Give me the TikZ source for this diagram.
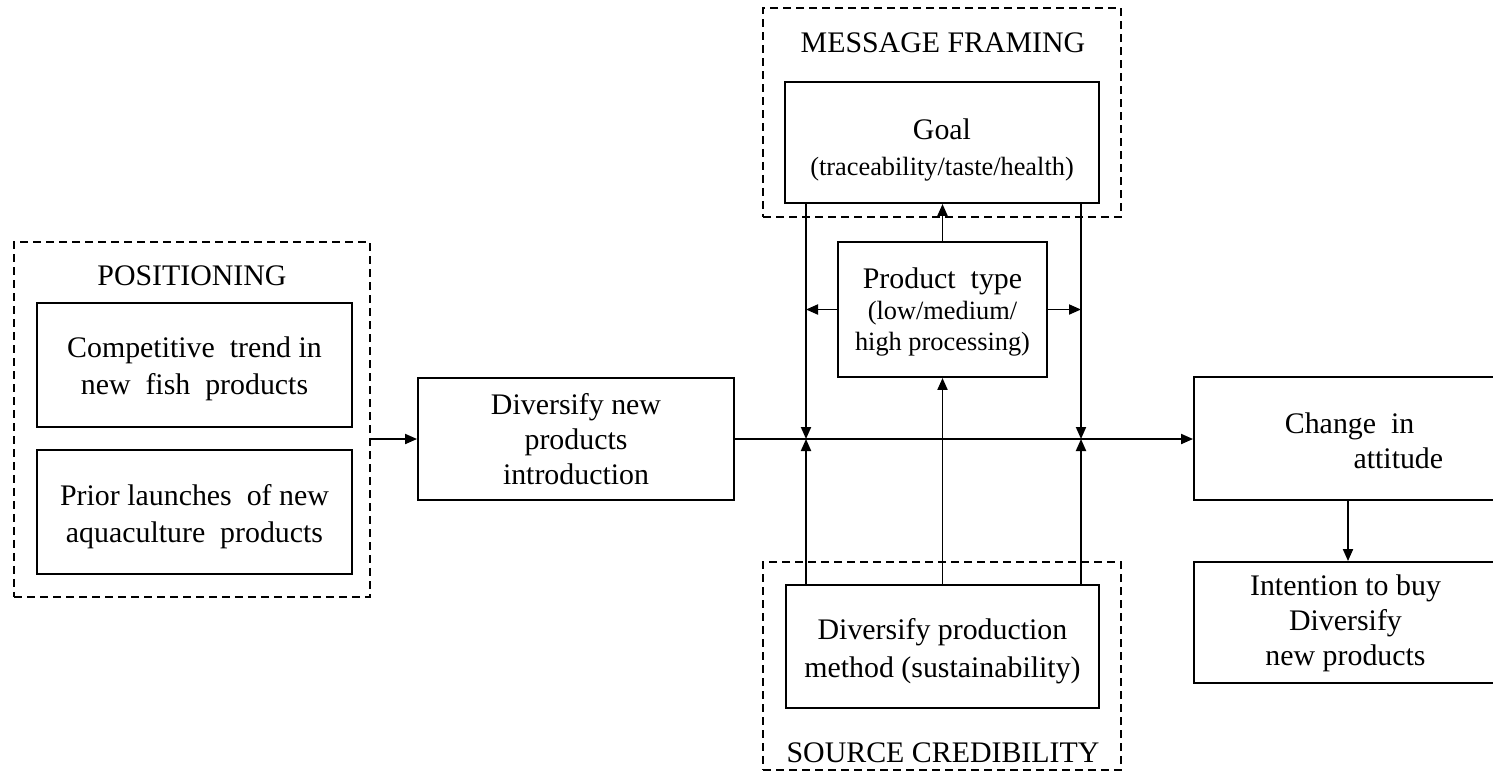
\documentclass[tikz,border=0pt]{standalone}
\usepackage{fontspec}
\setmainfont{Liberation Serif}
\usepackage{tikz}
\usetikzlibrary{arrows.meta,calc}

\begin{document}
\begin{tikzpicture}[x=0.02cm,y=-0.02cm,
line width=1.1pt,
box/.style={draw,align=center,inner sep=0pt,
  font=\fontsize{17}{20}\selectfont},
dashbox/.style={draw,dash pattern=on 1.6mm off 1mm,inner sep=0pt},
title/.style={font=\fontsize{17}{20}\selectfont},
arr/.style={-{Triangle[length=2.4mm,width=2mm]}}]
\useasboundingbox (0,0) rectangle (1493,772);

\node [dashbox,minimum width=7.12cm,minimum height=7.1cm] (pos) at (192,419.5) {};
\node [title] (posT) at (192,276) {POSITIONING};
\node [box,minimum width=6.3cm,minimum height=2.48cm] (comp) at (194.5,365) {};
\node [box,draw=none,font=\fontsize{17}{21}\selectfont] (compT) at (194.5,369)
  {Competitive\ \ trend in\\new\ \ fish\ \ products};
\node [box,minimum width=6.3cm,minimum height=2.48cm] (prior) at (194.5,512) {};
\node [box,draw=none,font=\fontsize{17}{21}\selectfont] (priorT) at (194.5,517)
  {Prior launches\ \ of new\\aquaculture\ \ products};

\node [box,minimum width=6.32cm,minimum height=2.44cm] (divnew) at (576,439)
  {Diversify new\\products\\introduction};

\node [dashbox,minimum width=7.16cm,minimum height=4.18cm] (msg) at (942,112.5) {};
\node [title] (msgT) at (943,43) {MESSAGE FRAMING};
\node [box,minimum width=6.28cm,minimum height=2.42cm] (goal) at (942,142.5) {};
\node [box,draw=none] (goalT) at (942,150)
  {Goal\\{\fontsize{15}{18}\selectfont(traceability/taste/health)}};
\node [box,minimum width=4.18cm,minimum height=2.7cm] (prod) at (942.5,309.5) {};
\node [box,draw=none,font=\fontsize{15}{17.5}\selectfont] (prodT) at (942.5,312)
  {{\fontsize{17}{17.5}\selectfont Product\ \ type}\\(low/medium/\\high processing)};

\node [dashbox,minimum width=7.16cm,minimum height=4.16cm] (srcB) at (942,666) {};
\node [box,minimum width=6.26cm,minimum height=2.46cm] (src) at (942.5,646.5) {};
\node [box,draw=none,font=\fontsize{17}{21.5}\selectfont] (srcT) at (942.5,651)
  {Diversify production\\method (sustainability)};
\node [title] (srcL) at (943,753) {SOURCE CREDIBILITY};

\node [box,minimum width=6.06cm,minimum height=2.46cm] (change) at (1345.5,438.5) {};
\node [title,align=left] (changeT) at (1364,441) {Change\ \ in\\\hspace*{2.3em}attitude};
\node [box,minimum width=6.06cm,minimum height=2.42cm] (intent) at (1345.5,622.5) {};
\node [box,draw=none] (intentT) at (1345.5,623)
  {Intention to buy\\Diversify\\new products};

\coordinate (jl) at (806,439);
\coordinate (jr) at (1081,439);

\draw [arr] (pos.east |- divnew.west) -- (divnew.west);
\draw [arr] (divnew.east) -- (divnew.east -| change.west);
\draw [arr] (jl |- goal.south) -- (jl);
\draw [arr] (jl |- src.north) -- (jl);
\draw [arr] (jr |- goal.south) -- (jr);
\draw [arr] (jr |- src.north) -- (jr);
\draw [arr] (prod.north) -- (prod.north |- goal.south);
\draw [arr] (prod.south |- src.north) -- (prod.south);
\draw [arr] (prod.west) -- (jl |- prod.west);
\draw [arr] (prod.east) -- (jr |- prod.east);
\draw [arr] (1348,0 |- change.south) -- (1348,0 |- intent.north);
\end{tikzpicture}
\end{document}
